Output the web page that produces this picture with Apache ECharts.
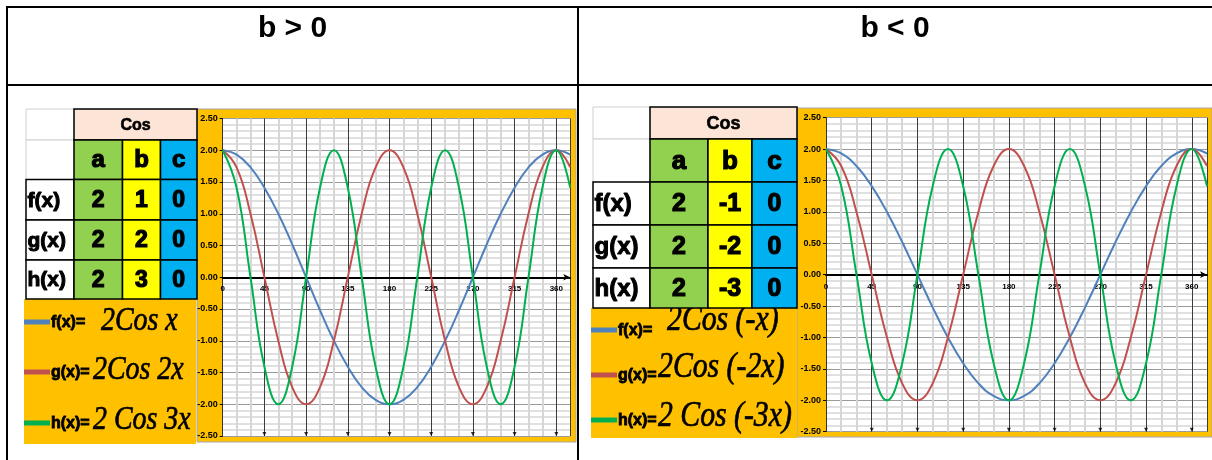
<!DOCTYPE html>
<html>
<head>
<meta charset="utf-8">
<script src="https://cdn.jsdelivr.net/npm/echarts@6/dist/echarts.min.js"></script>
<style>
html, body { margin: 0; padding: 0; background: #fff; }
#c { width: 1212px; height: 460px; }
</style>
</head>
<body>
<div id="c"></div>
<script>
// Sample angles in degrees (x axis)
const xDeg = [0, 15, 30, 45, 60, 75, 90, 105, 120, 135, 150, 165, 180, 195, 210, 225, 240, 255, 270, 285, 300, 315, 330, 345, 360, 375];

// b > 0 : 2Cos x, 2Cos 2x, 2Cos 3x
const fPos = [2, 1.93, 1.73, 1.41, 1, 0.52, 0, -0.52, -1, -1.41, -1.73, -1.93, -2, -1.93, -1.73, -1.41, -1, -0.52, 0, 0.52, 1, 1.41, 1.73, 1.93, 2, 1.93];
const gPos = [2, 1.73, 1, 0, -1, -1.73, -2, -1.73, -1, 0, 1, 1.73, 2, 1.73, 1, 0, -1, -1.73, -2, -1.73, -1, 0, 1, 1.73, 2, 1.73];
const hPos = [2, 1.41, 0, -1.41, -2, -1.41, 0, 1.41, 2, 1.41, 0, -1.41, -2, -1.41, 0, 1.41, 2, 1.41, 0, -1.41, -2, -1.41, 0, 1.41, 2, 1.41];

// b < 0 : 2Cos (-x), 2Cos (-2x), 2Cos (-3x)
const fNeg = [2, 1.93, 1.73, 1.41, 1, 0.52, 0, -0.52, -1, -1.41, -1.73, -1.93, -2, -1.93, -1.73, -1.41, -1, -0.52, 0, 0.52, 1, 1.41, 1.73, 1.93, 2, 1.93];
const gNeg = [2, 1.73, 1, 0, -1, -1.73, -2, -1.73, -1, 0, 1, 1.73, 2, 1.73, 1, 0, -1, -1.73, -2, -1.73, -1, 0, 1, 1.73, 2, 1.73];
const hNeg = [2, 1.41, 0, -1.41, -2, -1.41, 0, 1.41, 2, 1.41, 0, -1.41, -2, -1.41, 0, 1.41, 2, 1.41, 0, -1.41, -2, -1.41, 0, 1.41, 2, 1.41];

// Parameter table
const rowNames = ['f(x)', 'g(x)', 'h(x)'];
const colA = ['2', '2', '2'];
const colBPos = ['1', '2', '3'];
const colBNeg = ['-1', '-2', '-3'];
const colC = ['0', '0', '0'];

// Legend formulas and panel titles
const formulasPos = ['2Cos x', '2Cos 2x', '2 Cos 3x'];
const formulasNeg = ['2Cos (-x)', '2Cos (-2x)', '2 Cos (-3x)'];
const panelTitles = ['b > 0', 'b < 0'];

// Major vertical lines (arrow heads at their lower ends)
const majorDeg = [45, 90, 135, 180, 225, 270, 315, 360];

const COLORS = ['#4F81BD', '#C0504D', '#00B050'];
const SANS = '"Liberation Sans", Arial, sans-serif';
const SERIF = '"Liberation Serif", "Times New Roman", serif';

const chart = echarts.init(document.getElementById('c'), null, { renderer: 'canvas' });

const panels = [
  {
    grid: { left: 222.7, top: 118.5, width: 347.5, height: 317.5 },
    area: { x: 197, y: 109, w: 379, h: 333 },
    cols: [26, 74, 122.5, 160.5, 197],
    rows: [109, 140, 179.5, 220, 260, 299],
    fonts: { cos: 16, head: 24, name: 21, val: 23 },
    legend: { x: 24, y: 299, w: 172, h: 145, lineW: 26, rowsY: [322, 372, 423], labelX: 51, labelSize: 16,
              fx: [101, 93, 93], fy: [321, 370, 420], fSize: 34, fScale: 0.82 },
    series: [fPos, gPos, hPos], bcol: colBPos, formulas: formulasPos,
    title: { x: 292.5, y: 29 }
  },
  {
    grid: { left: 826, top: 117.7, width: 381, height: 314 },
    area: { x: 797, y: 108, w: 415, h: 329 },
    cols: [593, 650, 708, 752, 797],
    rows: [107, 139, 182, 225, 268, 308],
    fonts: { cos: 18, head: 26, name: 24, val: 25 },
    legend: { x: 591, y: 308, w: 206, h: 130, lineW: 26, rowsY: [330, 375, 420], labelX: 618, labelSize: 16,
              fx: [667, 658, 658], fy: [321, 368, 417], fSize: 35, fScale: 0.85 },
    series: [fNeg, gNeg, hNeg], bcol: colBNeg, formulas: formulasNeg,
    title: { x: 895, y: 29 }
  }
];

const graphics = [];
function rect(x, y, w, h, fill, stroke, lw, z) {
  graphics.push({ type: 'rect', z: z, silent: true, shape: { x: x, y: y, width: w, height: h },
    style: { fill: fill, stroke: stroke || null, lineWidth: lw || 0 } });
}
function line(x1, y1, x2, y2, stroke, lw, z) {
  graphics.push({ type: 'line', z: z, silent: true, shape: { x1: x1, y1: y1, x2: x2, y2: y2 },
    style: { stroke: stroke, lineWidth: lw } });
}
function text(str, x, y, size, opts) {
  opts = opts || {};
  const st = { text: str, fontSize: size, fontWeight: opts.weight || 'bold', fontStyle: opts.style || 'normal',
    fontFamily: opts.family || SANS, fill: opts.fill || '#000', textAlign: opts.align || 'center',
    textVerticalAlign: 'middle' };
  if (opts.heavy) { st.stroke = opts.fill || '#000'; st.lineWidth = opts.heavy; }
  graphics.push({ type: 'text', z: opts.z || 50, silent: true, x: x, y: y,
    scaleX: opts.scaleX || 1, style: st });
}

// Outer frame of the two-column layout
line(6, 7, 1212, 7, '#000', 2, 60);
line(7, 6, 7, 460, '#000', 2, 60);
line(578, 6, 578, 460, '#000', 2, 60);
line(6, 85, 1212, 85, '#000', 2, 60);

const grids = [], xAxes = [], yAxes = [], series = [];

panels.forEach(function (p, i) {
  text(panelTitles[i], p.title.x, p.title.y, 30, {});

  // chart area background
  rect(p.area.x, p.area.y, p.area.w, p.area.h, '#FFC000', '#a6a6a6', 1, -10);

  // parameter table
  const c = p.cols, r = p.rows, F = p.fonts;
  rect(c[0], r[0], c[1] - c[0], r[1] - r[0], '#fff', '#d0d0d0', 1, 20);
  rect(c[0], r[1], c[1] - c[0], r[2] - r[1], '#fff', '#d0d0d0', 1, 20);
  rect(c[1], r[0], c[4] - c[1], r[1] - r[0], '#FCE4D6', '#000', 1.5, 21);
  text('Cos', (c[1] + c[4]) / 2, (r[0] + r[1]) / 2 + 1, F.cos, { z: 30, heavy: 0.6 });
  const fills = ['#92D050', '#FFFF00', '#00B0F0'];
  const heads = ['a', 'b', 'c'];
  for (let k = 0; k < 3; k++) {
    rect(c[k + 1], r[1], c[k + 2] - c[k + 1], r[2] - r[1], fills[k], '#000', 1.5, 21);
    text(heads[k], (c[k + 1] + c[k + 2]) / 2, (r[1] + r[2]) / 2 + 1, F.head, { z: 30, heavy: 1.2 });
  }
  const cols = [colA, p.bcol, colC];
  for (let j = 0; j < 3; j++) {
    const y0 = r[j + 2], y1 = r[j + 3];
    rect(c[0], y0, c[1] - c[0], y1 - y0, '#fff', '#000', 1.5, 21);
    text(rowNames[j], c[0] + 1.5, (y0 + y1) / 2 + 1, F.name, { align: 'left', z: 30, heavy: 1 });
    for (let k = 0; k < 3; k++) {
      rect(c[k + 1], y0, c[k + 2] - c[k + 1], y1 - y0, fills[k], '#000', 1.5, 21);
      text(cols[k][j], (c[k + 1] + c[k + 2]) / 2, (y0 + y1) / 2 + 1, F.val, { z: 30, heavy: 1.2 });
    }
  }

  // legend box
  const L = p.legend;
  rect(L.x, L.y, L.w, L.h, '#FFC000', null, 0, 5);
  for (let j = 0; j < 3; j++) {
    line(L.x, L.rowsY[j], L.x + L.lineW, L.rowsY[j], COLORS[j], 5, 8);
    text(rowNames[j] + '=', L.labelX, L.rowsY[j] + 1, L.labelSize, { align: 'left', z: 9, heavy: 0.8 });
    text(p.formulas[j], L.fx[j], L.fy[j], L.fSize, { align: 'left', z: 9, weight: 'normal', style: 'italic',
      family: SERIF, scaleX: L.fScale, heavy: 0.7 });
  }

  grids.push({ left: p.grid.left, top: p.grid.top, width: p.grid.width, height: p.grid.height,
    show: true, backgroundColor: '#fff', borderWidth: 0 });

  xAxes.push({
    type: 'value', gridIndex: i, min: 0, max: 375, interval: 45,
    position: 'bottom', offset: -p.grid.height / 2,
    axisLine: { onZero: false, lineStyle: { color: '#000', width: 2 }, symbol: ['none', 'arrow'], symbolSize: [5, 7] },
    axisTick: { show: false },
    axisLabel: { fontSize: 8, fontWeight: 'bold', color: '#000', fontFamily: SANS, margin: 8,
      formatter: function (v) { return v % 45 === 0 ? String(v) : ''; }, showMaxLabel: false },
    splitLine: { show: true, lineStyle: { color: '#3c3c3c', width: 1 } },
    minorTick: { show: false, splitNumber: 3 },
    minorSplitLine: { show: true, lineStyle: { color: '#d6d6d6', width: 2 } }
  });
  yAxes.push({
    type: 'value', gridIndex: i, min: -2.5, max: 2.5, interval: 0.5,
    axisLine: { show: true, onZero: false, lineStyle: { color: '#333', width: 1 } },
    axisTick: { show: true, length: 3, lineStyle: { color: '#000' } },
    axisLabel: { fontSize: 9, fontWeight: 'bold', color: '#000', fontFamily: SANS, margin: 5,
      formatter: function (v) { return v.toFixed(2); } },
    splitLine: { show: true, lineStyle: { color: '#9a9a9a', width: 1 } },
    minorTick: { show: false, splitNumber: 5 },
    minorSplitLine: { show: true, lineStyle: { color: '#d6d6d6', width: 1.5 } }
  });

  ['f(x)', 'g(x)', 'h(x)'].forEach(function (name, j) {
    series.push({
      type: 'line', name: name, xAxisIndex: i, yAxisIndex: i,
      data: xDeg.map(function (x, k) { return [x, p.series[j][k]]; }),
      smooth: 0.45, showSymbol: false, symbol: 'none', clip: true,
      lineStyle: { color: COLORS[j], width: 2 }, z: 5 + j
    });
  });
  series.push({
    type: 'scatter', xAxisIndex: i, yAxisIndex: i, silent: true,
    data: majorDeg.map(function (x) { return [x, -2.5]; }),
    symbol: 'triangle', symbolRotate: 180, symbolSize: [4, 4], symbolOffset: [0, -2],
    itemStyle: { color: '#000' }, z: 4
  });
});

chart.setOption({
  animation: false,
  backgroundColor: '#fff',
  grid: grids,
  xAxis: xAxes,
  yAxis: yAxes,
  series: series,
  graphic: { elements: graphics }
});
</script>
</body>
</html>
